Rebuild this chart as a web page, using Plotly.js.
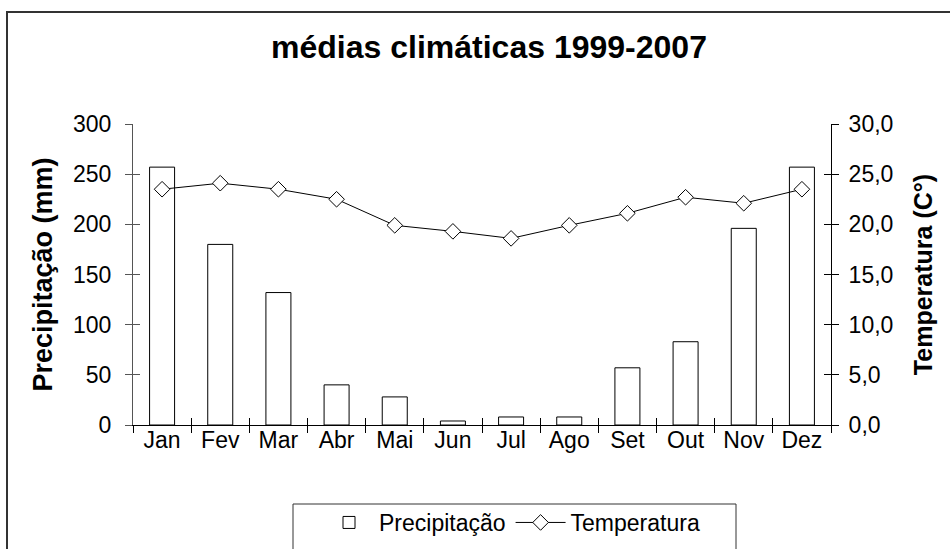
<!DOCTYPE html>
<html>
<head>
<meta charset="utf-8">
<script src="https://cdn.plot.ly/plotly-3.0.1.min.js"></script>
<style>
html,body{margin:0;padding:0;background:#fff;}
#chart{width:950px;height:549px;}
</style>
</head>
<body>
<div id="chart"></div>
<script>
// ---- data ----
var months = ["Jan","Fev","Mar","Abr","Mai","Jun","Jul","Ago","Set","Out","Nov","Dez"];
var precipitacao = [257, 180, 132, 40, 28, 4, 8, 8, 57, 83, 196, 257];
var temperatura = [23.5, 24.1, 23.5, 22.5, 19.9, 19.3, 18.6, 19.9, 21.1, 22.7, 22.1, 23.5];
var precipTicks = [0, 50, 100, 150, 200, 250, 300];
var tempTicks = [0, 5, 10, 15, 20, 25, 30];

// ---- geometry ----
var W = 950, H = 549;
var M = {l: 133, r: 119, t: 124, b: 124};
var PW = W - M.l - M.r, PH = H - M.t - M.b;
function px(x){ return (x - M.l) / PW; }
function py(y){ return (H - M.b - y) / PH; }

var FONT = "Liberation Sans, Arial, sans-serif";

var traces = [
  {
    type: "bar", name: "Precipitação", x: months, y: precipitacao,
    width: 0.43,
    marker: {color: "#ffffff", line: {color: "#000000", width: 1}},
    xaxis: "x", yaxis: "y", hoverinfo: "x+y"
  },
  {
    type: "scatter", mode: "lines+markers", name: "Temperatura",
    x: months, y: temperatura,
    line: {color: "#000000", width: 1},
    marker: {symbol: "diamond", size: 12, color: "#ffffff", line: {color: "#000000", width: 1}},
    xaxis: "x", yaxis: "y2"
  },
  // invisible helpers to get crossing ticks
  {type: "scatter", mode: "none", x: months, y: precipitacao, xaxis: "x2", yaxis: "y3", showlegend: false, hoverinfo: "skip"},
  {type: "scatter", mode: "none", x: months, y: temperatura, xaxis: "x2", yaxis: "y4", showlegend: false, hoverinfo: "skip"}
];

var tickFont = {family: FONT, size: 23, color: "#000"};

var layout = {
  width: W, height: H,
  margin: M,
  paper_bgcolor: "#fff", plot_bgcolor: "#fff",
  separators: ",.",
  showlegend: true,
  title: {
    text: "<b>médias climáticas 1999-2007</b>",
    font: {family: FONT, size: 32, color: "#000"},
    x: 489 / W, xref: "container", xanchor: "center",
    y: 1 - 47 / H, yref: "container", yanchor: "middle"
  },
  xaxis: {
    type: "category", categoryorder: "array", categoryarray: months,
    range: [-0.5, 11.5], fixedrange: true,
    tickson: "boundaries", ticks: "outside", ticklen: 7, tickcolor: "#000", tickwidth: 1,
    showline: true, linecolor: "#000", linewidth: 1,
    showgrid: false, zeroline: false,
    tickfont: tickFont, ticklabelstandoff: -6
  },
  xaxis2: {
    type: "category", categoryorder: "array", categoryarray: months,
    range: [-0.5, 11.5], overlaying: "x", anchor: "y3",
    tickson: "boundaries", ticks: "inside", ticklen: 7, tickcolor: "#000", tickwidth: 1,
    showline: false, showgrid: false, zeroline: false, showticklabels: false
  },
  yaxis: {
    range: [0, 300], tickvals: precipTicks, fixedrange: true,
    ticks: "outside", ticklen: 7, tickcolor: "#555", tickwidth: 1,
    showline: true, linecolor: "#555", linewidth: 1,
    showgrid: false, zeroline: false,
    tickfont: tickFont, ticklabelstandoff: 9,
    title: {text: "<b>Precipitação (mm)</b>", font: {family: FONT, size: 27, color: "#000"}, standoff: 12}
  },
  yaxis2: {
    range: [0, 30], tickvals: tempTicks, tickformat: ".1f", overlaying: "y", side: "right", anchor: "x",
    ticks: "outside", ticklen: 7, tickcolor: "#000", tickwidth: 1,
    showline: true, linecolor: "#000", linewidth: 1,
    showgrid: false, zeroline: false,
    tickfont: tickFont, ticklabelstandoff: 5,
    title: {text: "<b>Temperatura (C°)</b>", font: {family: FONT, size: 25, color: "#000"}, standoff: 22}
  },
  yaxis3: {
    range: [0, 300], tickvals: precipTicks, overlaying: "y", side: "left", anchor: "x2",
    ticks: "inside", ticklen: 7, tickcolor: "#555", tickwidth: 1,
    showline: false, showgrid: false, zeroline: false, showticklabels: false
  },
  yaxis4: {
    range: [0, 30], tickvals: tempTicks, overlaying: "y", side: "right", anchor: "x2",
    ticks: "inside", ticklen: 7, tickcolor: "#000", tickwidth: 1,
    showline: false, showgrid: false, zeroline: false, showticklabels: false
  },
  legend: {
    orientation: "h", xref: "container", yref: "container",
    x: 512 / W, xanchor: "center", y: 1 - 501 / H, yanchor: "top",
    font: {family: FONT, size: 23, color: "#000"},
    borderwidth: 0, bgcolor: "rgba(0,0,0,0)", itemwidth: 50, tracegroupgap: 0
  },
  shapes: [
    {type: "rect", xref: "paper", yref: "paper", x0: px(7), x1: px(1100), y0: py(12), y1: py(700),
     line: {color: "#333", width: 2}, fillcolor: "rgba(0,0,0,0)", layer: "above"},
    {type: "rect", xref: "paper", yref: "paper", x0: px(293), x1: px(736), y0: py(504), y1: py(700),
     line: {color: "#333", width: 1}, fillcolor: "rgba(0,0,0,0)", layer: "above"}
  ]
};

Plotly.newPlot("chart", traces, layout, {displayModeBar: false, staticPlot: true});
</script>
</body>
</html>
